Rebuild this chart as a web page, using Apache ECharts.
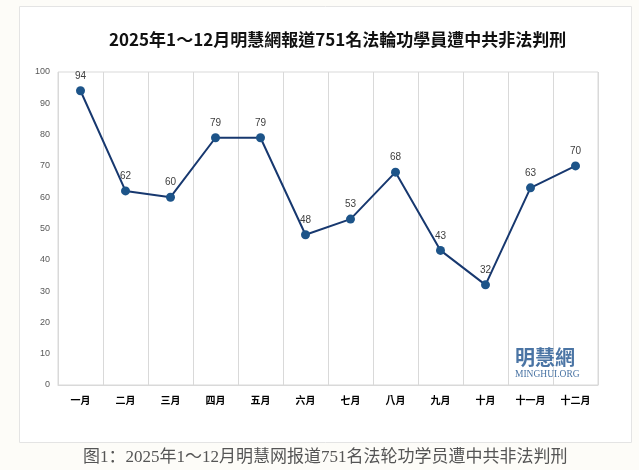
<!DOCTYPE html>
<html>
<head>
<meta charset="utf-8">
<script src="https://cdn.jsdelivr.net/npm/echarts@6/dist/echarts.min.js"></script>
<style>
html,body{margin:0;padding:0;background:#fdfcf8;}
#c{width:639px;height:470px;}
</style>
</head>
<body>
<div id="c"></div>
<script>
const titleText = '2025年1～12月明慧網報道751名法輪功學員遭中共非法判刑';
const captionText = '图1：2025年1～12月明慧网报道751名法轮功学员遭中共非法判刑';
const months = ['一月','二月','三月','四月','五月','六月','七月','八月','九月','十月','十一月','十二月'];
const cases = [94, 62, 60, 79, 79, 48, 53, 68, 43, 32, 63, 70];
const yMin = 0, yMax = 100, yStep = 10;

const chart = echarts.init(document.getElementById('c'), null, {renderer: 'canvas'});
chart.setOption({
  backgroundColor: '#fdfcf8',
  animation: false,
  title: {
    text: titleText,
    left: 104,
    top: 26,
    textStyle: {fontFamily: '"Noto Sans CJK TC", sans-serif', fontSize: 17, fontWeight: 'bold', color: '#111'}
  },
  graphic: [
    {type: 'rect', z: -10, shape: {x: 19.5, y: 6.5, width: 612, height: 436}, style: {fill: '#ffffff', stroke: '#e4e4e4', lineWidth: 1}},
    {type: 'text', z: 10, left: 515, top: 347, style: {text: '明慧網', fontFamily: '"Noto Sans CJK TC", serif', fontSize: 20, fill: '#4a74a4', fontWeight: 'bold'}},
    {type: 'text', z: 10, left: 515, top: 369, style: {text: 'MINGHUI.ORG', fontFamily: '"Liberation Serif", serif', fontSize: 9.5, fill: '#4a74a4'}},
    {type: 'text', z: 10, left: 83, top: 449, style: {text: captionText, fontFamily: '"Liberation Serif", "Noto Sans CJK SC", serif', fontSize: 17, fill: '#555555'}}
  ],
  grid: {left: 58, right: 41, top: 72, bottom: 85, show: true, borderColor: '#d9d9d9', borderWidth: 1, backgroundColor: 'transparent'},
  xAxis: {
    type: 'category',
    data: months,
    boundaryGap: true,
    axisLine: {show: true, lineStyle: {color: '#d9d9d9'}},
    axisTick: {show: false},
    splitLine: {show: true, lineStyle: {color: '#d9d9d9', width: 1}},
    axisLabel: {color: '#000', fontSize: 10, fontWeight: 'bold', margin: 10, fontFamily: '"Noto Sans CJK TC", sans-serif', interval: 0}
  },
  yAxis: {
    type: 'value',
    min: yMin, max: yMax, interval: yStep,
    axisLine: {show: false},
    axisTick: {show: false},
    splitLine: {show: false},
    axisLabel: {color: '#595959', fontSize: 9, margin: 8, fontFamily: '"Liberation Sans", sans-serif'}
  },
  series: [{
    type: 'line',
    data: cases,
    symbol: 'circle',
    symbolSize: 9,
    lineStyle: {color: '#17386f', width: 2},
    itemStyle: {color: '#1d5489'},
    label: {show: true, position: 'top', distance: 5, color: '#404040', fontSize: 10, fontFamily: '"Liberation Sans", sans-serif'}
  }]
});
</script>
</body>
</html>
